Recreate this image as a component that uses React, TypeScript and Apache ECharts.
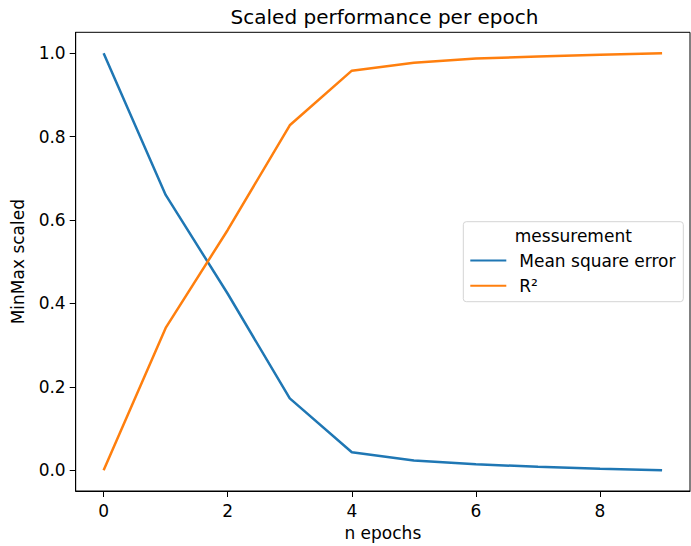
import React, { useEffect, useRef } from "react";
import * as echarts from "echarts";

const epochs = [0, 1, 2, 3, 4, 5, 6, 7, 8, 9];
const mse = [1.0, 0.66, 0.423, 0.172, 0.043, 0.023, 0.014, 0.008, 0.0035, 0.0];
const r2 = [0.0, 0.341, 0.576, 0.827, 0.958, 0.977, 0.987, 0.992, 0.996, 1.0];
const xTicks = [0, 2, 4, 6, 8];
const yTicks = [0, 0.2, 0.4, 0.6, 0.8, 1.0];
const seriesNames = ["Mean square error", "R\u00b2"];
const legendTitle = "messurement";
const titleText = "Scaled performance per epoch";
const xName = "n epochs";
const yName = "MinMax scaled";

const FONT = "DejaVu Sans";

export default function App() {
  const ref = useRef<HTMLDivElement>(null);
  useEffect(() => {
    if (!ref.current) return;
    const chart = echarts.init(ref.current, undefined, { renderer: "svg" });
    const axisCommon = {
      axisLine: { show: true, onZero: false, lineStyle: { color: "#000", width: 1 } },
      axisTick: { show: true, inside: false, length: 6, lineStyle: { color: "#000", width: 1 } },
      splitLine: { show: false },
      nameTextStyle: { fontFamily: FONT, fontSize: 17, color: "#000" },
    };
    chart.setOption({
      animation: false,
      backgroundColor: "#fff",
      title: {
        text: titleText,
        left: 379.5,
        top: 2,
        textAlign: "center",
        textStyle: { fontFamily: FONT, fontSize: 20, fontWeight: "normal", color: "#000" },
      },
      grid: {
        left: 75.7,
        right: 1,
        top: 32.3,
        bottom: 54.7,
        show: true,
        borderColor: "#000",
        borderWidth: 1,
        backgroundColor: "transparent",
      },
      xAxis: {
        type: "value",
        min: -0.45,
        max: 9.45,
        name: xName,
        nameLocation: "middle",
        nameGap: 33,
        ...axisCommon,
        axisTick: { ...axisCommon.axisTick, customValues: xTicks },
        axisLabel: {
          customValues: xTicks,
          margin: 11,
          fontFamily: FONT,
          fontSize: 17,
          color: "#000",
          formatter: (v: number) => String(v),
        },
      },
      yAxis: {
        type: "value",
        min: -0.05,
        max: 1.05,
        name: yName,
        nameLocation: "middle",
        nameGap: 49,
        ...axisCommon,
        axisTick: { ...axisCommon.axisTick, customValues: yTicks },
        axisLabel: {
          customValues: yTicks,
          margin: 10,
          fontFamily: FONT,
          fontSize: 17,
          color: "#000",
          formatter: (v: number) => v.toFixed(1),
        },
      },
      legend: {
        orient: "vertical",
        left: 469.3,
        top: 252,
        padding: 0,
        itemWidth: 36,
        itemHeight: 14,
        itemGap: 8.3,
        data: seriesNames,
        itemStyle: { opacity: 0 },
        textStyle: { fontFamily: FONT, fontSize: 17, color: "#000", padding: [0, 0, 0, 8], lineHeight: 17 },
        selectedMode: false,
      },
      graphic: [
        {
          type: "rect",
          z: 0,
          zlevel: 0,
          shape: { x: 463.3, y: 221.7, width: 220, height: 80, r: 3 },
          style: { fill: "rgba(255,255,255,0.8)", stroke: "#d4d4d4", lineWidth: 1 },
        },
        {
          type: "text",
          x: 573.3,
          y: 235.7,
          style: {
            text: legendTitle,
            fontFamily: FONT,
            fontSize: 17,
            fill: "#000",
            align: "center",
            verticalAlign: "middle",
          },
        },
      ],
      series: [
        {
          name: seriesNames[0],
          type: "line",
          data: epochs.map((e, i) => [e, mse[i]]),
          symbol: "none",
          lineStyle: { color: "#1f77b4", width: 2.5 },
          itemStyle: { color: "#1f77b4" },
          z: 2,
        },
        {
          name: seriesNames[1],
          type: "line",
          data: epochs.map((e, i) => [e, r2[i]]),
          symbol: "none",
          lineStyle: { color: "#ff7f0e", width: 2.5 },
          itemStyle: { color: "#ff7f0e" },
          z: 3,
        },
      ],
    });
    return () => chart.dispose();
  }, []);
  return (
    <div
      ref={ref}
      style={{ position: "fixed", left: 0, top: 0, width: 691, height: 546 }}
    />
  );
}
